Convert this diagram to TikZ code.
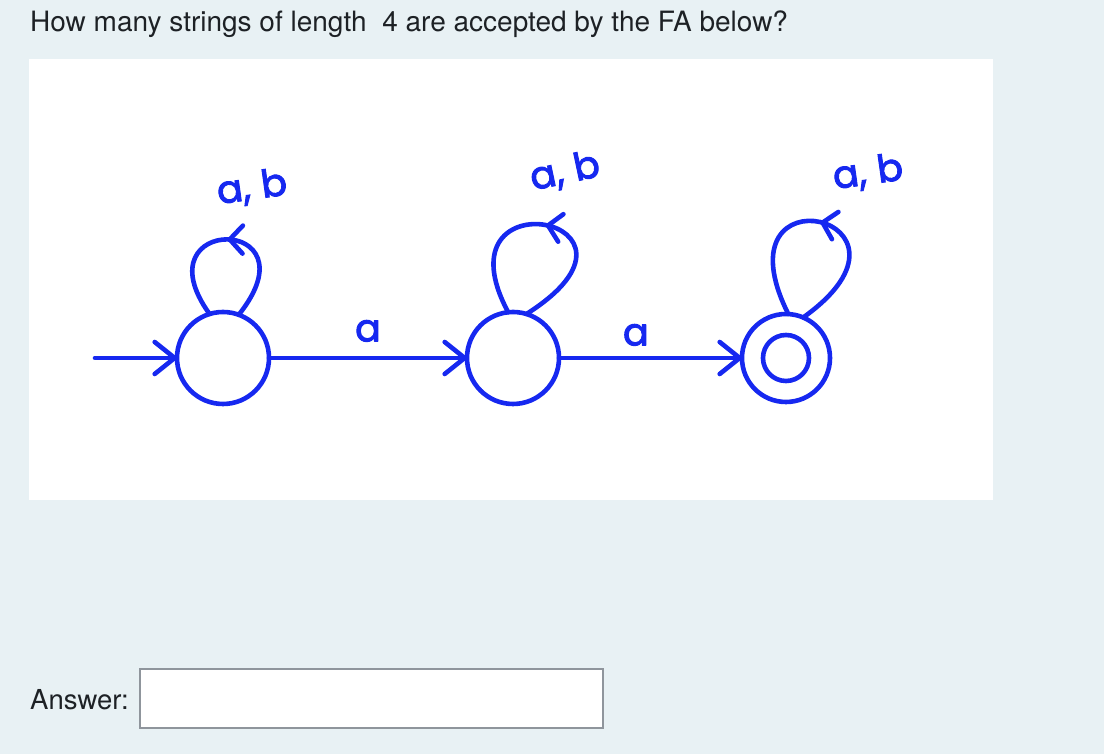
\documentclass[tikz,border=0pt]{standalone}
\usepackage{fontspec}
\setmainfont{TeX Gyre Heros}
\newfontfamily\hand{Poppins}[FakeBold=2.5]
\usetikzlibrary{arrows.meta,decorations.markings}
\definecolor{bg}{RGB}{232,241,244}
\definecolor{ink}{RGB}{29,33,37}
\definecolor{pen}{RGB}{22,40,240}
\definecolor{boxline}{RGB}{143,149,156}
\begin{document}
\begin{tikzpicture}[x=1pt,y=1pt,
  state/.style={circle,draw=pen,line width=4.6pt,minimum size=92pt,inner sep=0pt,outer sep=0pt},
  edge/.style={draw=pen,line width=4.6pt,line cap=round,line join=round},
  tip/.style={-{Straight Barb[length=20pt,width=32pt,round]}},
  selfloop/.style={edge,postaction={decorate},
    decoration={markings,mark=at position 0.5 with {\arrow{Straight Barb[length=13pt,width=28pt,round]}}}},
  lbl/.style={text=pen,font=\hand\fontsize{38}{38}\selectfont,inner sep=0pt},
  plain/.style={text=ink,inner sep=0pt,anchor=base west}]
\fill[bg] (0,0) rectangle (1104,754);
\useasboundingbox (0,0) rectangle (1104,754);
\node[fill=white,minimum width=964pt,minimum height=441pt,anchor=south west,inner sep=0pt] (panel) at (29,254) {};
\node[plain,font=\fontsize{28}{32}\selectfont] (title) at (30,722) {How many strings of length\ \ 4 are accepted by the FA below?};
\node[plain,font=\fontsize{27.5}{32}\selectfont] (ans) at (30,44) {Answer:};
\node[draw=boxline,fill=white,line width=1.5pt,minimum width=463pt,minimum height=59pt,anchor=south west,inner sep=0pt] (box) at (139,25) {};
% states
\node[state] (s1) at (223,396) {};
\node[state] (s2) at (513,396) {};
\node[state,minimum size=88pt] (s3) at (786,396) {};
\draw[edge] (s3.center) circle (23pt);
\coordinate (start) at (95,396);
% transitions
\draw[edge,tip] (start) -- (s1);
\draw[edge,tip] (s1) -- node[lbl,pos=0.5,above=14pt] (la1) {a} (s2);
\draw[edge,tip] (s2) -- node[lbl,pos=0.42,above=10pt] (la2) {a} (s3);
% self loops
\draw[selfloop] (s1.70) .. controls +(80,100) and +(-72,100) .. (s1.107);
\draw[selfloop] (s2.73) .. controls +(150,95) and +(-75,140) .. (s2.96);
\draw[selfloop] (s3.67) .. controls +(140,100) and +(-75,150) .. (s3.87);
\node[lbl,rotate=8] (l1) at (252,566) {a,\hspace{0.3em}b};
\node[lbl,rotate=12] (l2) at (565,582) {a,\hspace{0.3em}b};
\node[lbl,rotate=8] (l3) at (868,581) {a,\hspace{0.3em}b};
\end{tikzpicture}
\end{document}
